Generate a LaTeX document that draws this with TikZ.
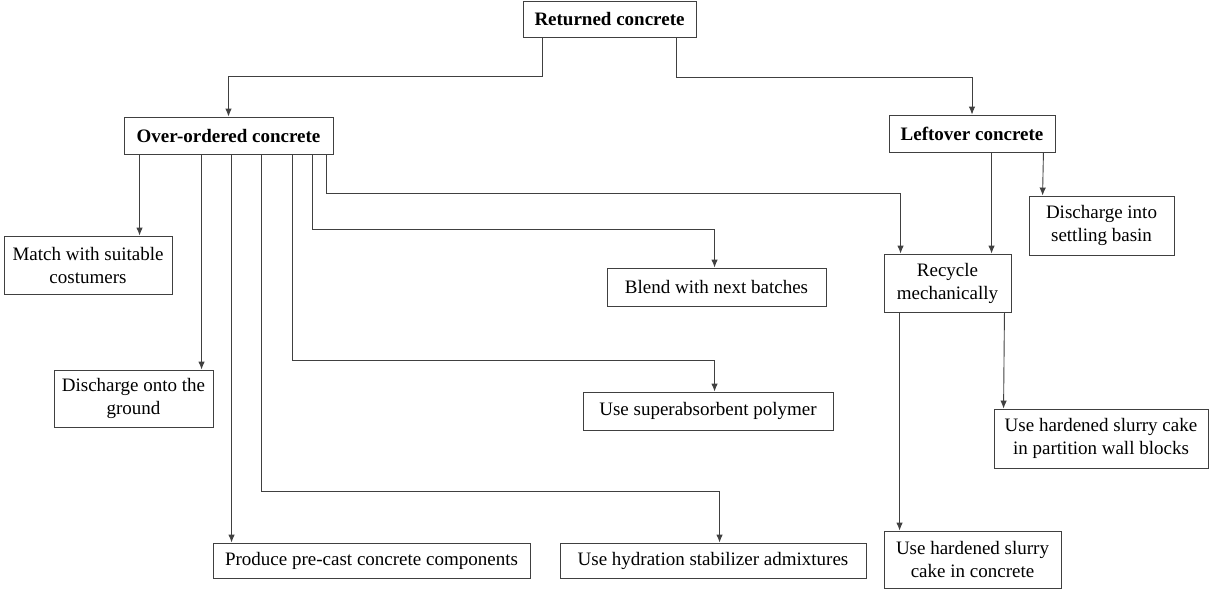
\documentclass[tikz,border=0pt]{standalone}
\usepackage{fontspec}
\setmainfont{Liberation Serif}
\usepackage{tikz}
\usetikzlibrary{arrows.meta}

\begin{document}
\begin{tikzpicture}[x=1pt,y=-1pt,
    box/.style={draw=black!75, line width=0.9pt, align=center, inner sep=0pt, font=\fontsize{19}{23}\selectfont},
    head/.style={box, font=\fontsize{19}{23}\selectfont\bfseries},
    arr/.style={draw=black!75, line width=0.9pt, -{Latex[length=8pt,width=6.5pt]}}]
    \useasboundingbox (0,0) rectangle (1212,589);
    \node[head, minimum width=173pt, minimum height=36pt] (ret) at (609.5,19) {Returned concrete};
    \node[head, minimum width=209pt, minimum height=37pt] (over) at (228.5,135.5) {Over-ordered concrete};
    \node[head, minimum width=166pt, minimum height=37pt] (left) at (972,133.5) {Leftover concrete};
    \node[box, minimum width=168pt, minimum height=58pt] (match) at (88,265) {Match with suitable\\costumers};
    \node[box, minimum width=159pt, minimum height=57pt] (ground) at (133.5,398.5) {Discharge onto the\\ground};
    \node[box, minimum width=219pt, minimum height=38pt] (blend) at (716.5,287) {Blend with next batches};
    \node[box, minimum width=250pt, minimum height=38pt] (sap) at (708,411) {Use superabsorbent polymer};
    \node[box, minimum width=317pt, minimum height=35pt] (precast) at (371.5,560.5) {Produce pre-cast concrete components};
    \node[box, minimum width=306pt, minimum height=35pt] (hsa) at (713,560.5) {Use hydration stabilizer admixtures};
    \node[box, minimum width=127pt, minimum height=58pt] (recycle) at (947.5,283) {Recycle\\mechanically};
    \node[box, minimum width=145pt, minimum height=59pt] (basin) at (1101.5,225.5) {Discharge into\\settling basin};
    \node[box, minimum width=214pt, minimum height=59pt] (wall) at (1101,438.5) {Use hardened slurry cake\\in partition wall blocks};
    \node[box, minimum width=177pt, minimum height=57pt] (cake) at (972.5,559.5) {Use hardened slurry\\cake in concrete};
    \draw[arr] ([xshift=20pt]ret.south west) -- ++(0,39) -| (over.north);
    \draw[arr] ([xshift=-20pt]ret.south east) -- ++(0,40) -| (left.north);
    \draw[arr] ([xshift=16pt]over.south west) -- ([xshift=136pt]match.north west);
    \draw[arr] ([xshift=78pt]over.south west) -- ([xshift=148pt]ground.north west);
    \draw[arr] ([xshift=108pt]over.south west) -- ([xshift=19pt]precast.north west);
    \draw[arr] ([xshift=138pt]over.south west) -- ++(0,337) -| ([xshift=160pt]hsa.north west);
    \draw[arr] ([xshift=169pt]over.south west) -- ++(0,206) -| ([xshift=132pt]sap.north west);
    \draw[arr] ([xshift=189pt]over.south west) -- ++(0,75) -| ([xshift=108pt]blend.north west);
    \draw[arr] ([xshift=203pt]over.south west) -- ++(0,39) -| ([xshift=17pt]recycle.north west);
    \draw[arr] ([xshift=103pt]left.south west) -- ([xshift=108pt]recycle.north west);
    \draw[arr] ([xshift=-12pt]left.south east) -- ([xshift=14pt]basin.north west);
    \draw[arr] ([xshift=16pt]recycle.south west) -- ([xshift=16pt]cake.north west);
    \draw[arr] ([xshift=-7pt]recycle.south east) -- ([xshift=10pt]wall.north west);
\end{tikzpicture}
\end{document}
